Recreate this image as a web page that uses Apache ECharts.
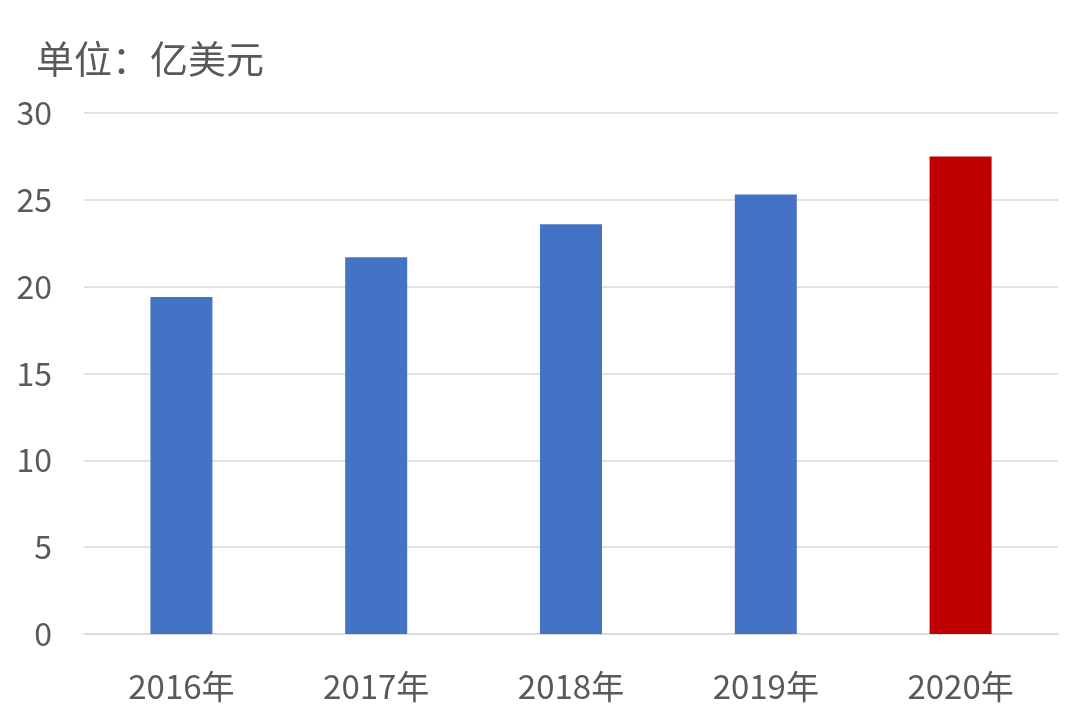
<!DOCTYPE html>
<html>
<head>
<meta charset="utf-8">
<script src="https://cdn.jsdelivr.net/npm/echarts@6/dist/echarts.min.js"></script>
<style>
  html, body { margin: 0; padding: 0; background: #fff; }
  #chart { width: 1080px; height: 726px; }
</style>
</head>
<body>
<div id="chart"></div>
<script>
// 单位：亿美元
const years = ['2016年', '2017年', '2018年', '2019年', '2020年'];
const values = [19.4, 21.7, 23.6, 25.3, 27.5];
const barColors = ['#4472C4', '#4472C4', '#4472C4', '#4472C4', '#C00000'];

const chart = echarts.init(document.getElementById('chart'));
const font = '"Microsoft YaHei", "Noto Sans CJK SC", sans-serif';

chart.setOption({
  animation: false,
  title: {
    text: '单位：亿美元',
    left: 31, top: 35,
    textStyle: { fontSize: 38, fontWeight: 'normal', color: '#595959', fontFamily: font }
  },
  grid: { left: 84, right: 22, top: 113, bottom: 92 },
  xAxis: {
    type: 'category',
    data: years,
    axisTick: { show: false },
    axisLine: { lineStyle: { color: '#D9D9D9', width: 1.5 } },
    axisLabel: { fontSize: 33, color: '#595959', margin: 36, fontFamily: font }
  },
  yAxis: {
    type: 'value',
    min: 0, max: 30, interval: 5,
    axisLine: { show: false },
    axisTick: { show: false },
    splitLine: { lineStyle: { color: '#D9D9D9', width: 1.5 } },
    axisLabel: { fontSize: 32, color: '#595959', margin: 32, fontFamily: font }
  },
  series: [{
    type: 'bar',
    barWidth: 62,
    data: values.map((v, i) => ({ value: v, itemStyle: { color: barColors[i] } }))
  }]
});
</script>
</body>
</html>
